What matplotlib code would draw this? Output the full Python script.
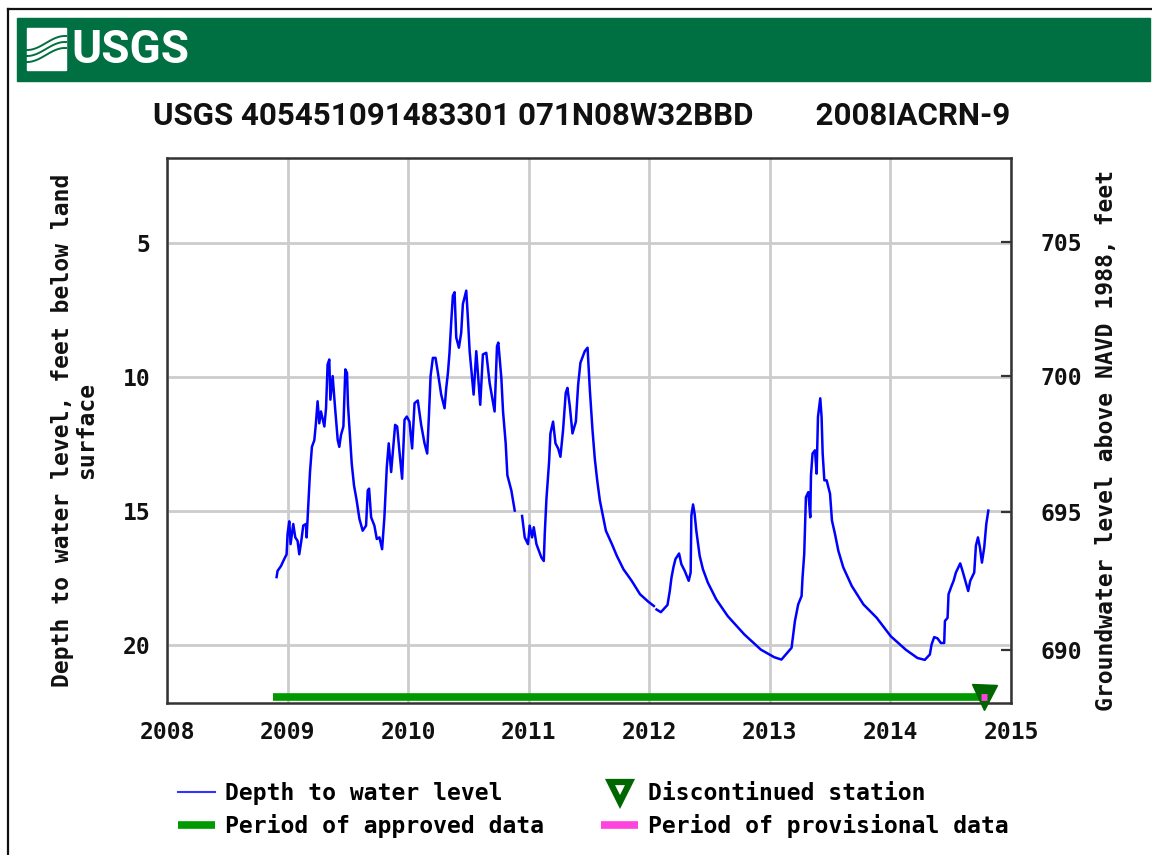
import numpy as np
import matplotlib
matplotlib.use("Agg")
import matplotlib.pyplot as plt
from matplotlib.lines import Line2D
from matplotlib.patches import Rectangle

nan = float("nan")
years = [2008.909,2008.917,2008.945,2008.972,2008.992,2009.000,2009.014,2009.025,2009.047,2009.064,2009.083,2009.097,2009.116,2009.130,2009.152,2009.158,2009.175,2009.186,2009.202,2009.222,2009.235,2009.249,2009.263,2009.277,2009.305,2009.319,2009.332,2009.346,2009.355,2009.374,2009.393,2009.416,2009.429,2009.443,2009.463,2009.479,2009.493,2009.501,2009.518,2009.532,2009.551,2009.573,2009.596,2009.623,2009.651,2009.665,2009.676,2009.693,2009.720,2009.740,2009.762,2009.784,2009.803,2009.823,2009.839,2009.859,2009.873,2009.892,2009.909,2009.928,2009.950,2009.970,2009.989,
2010.011,2010.033,2010.053,2010.080,2010.108,2010.136,2010.158,2010.172,2010.186,2010.205,2010.227,2010.247,2010.274,2010.302,2010.316,2010.330,2010.343,2010.357,2010.371,2010.385,2010.399,2010.421,2010.440,2010.454,2010.482,2010.496,2010.510,2010.543,2010.565,2010.598,2010.620,2010.648,2010.676,2010.717,2010.737,2010.748,2010.773,2010.787,2010.809,2010.823,2010.856,2010.884,2010.915,2010.945,2010.967,2010.994,
2011.008,2011.028,2011.042,2011.064,2011.105,2011.125,2011.133,2011.147,2011.169,2011.180,2011.202,2011.222,2011.244,2011.263,2011.285,2011.307,2011.321,2011.341,2011.363,2011.391,2011.410,2011.429,2011.465,2011.488,2011.507,2011.529,2011.548,2011.568,2011.590,2011.618,2011.640,2011.690,2011.731,2011.786,2011.854,2011.923,2011.992,
2012.038,2012.049,2012.060,2012.096,2012.151,2012.170,2012.184,2012.201,2012.217,2012.247,2012.266,2012.294,2012.327,2012.343,2012.349,2012.363,2012.376,2012.390,2012.418,2012.445,2012.486,2012.555,2012.651,2012.788,2012.926,
2013.036,2013.096,2013.180,2013.194,2013.208,2013.235,2013.263,2013.271,2013.285,2013.299,2013.319,2013.335,2013.341,2013.354,2013.374,2013.388,2013.399,2013.418,2013.429,2013.438,2013.452,2013.471,2013.499,2013.515,2013.540,2013.568,2013.609,2013.679,2013.776,2013.886,
2014.003,2014.127,2014.224,2014.285,2014.327,2014.341,2014.363,2014.391,2014.418,2014.446,2014.452,2014.474,2014.482,2014.507,2014.524,2014.543,2014.579,2014.598,2014.626,2014.645,2014.662,2014.695,2014.709,2014.726,2014.742,2014.759,2014.778,2014.795,2014.812]
depth = [17.47,17.24,17.06,16.80,16.62,15.86,15.39,16.24,15.49,15.99,16.12,16.62,16.05,15.55,15.49,15.99,14.49,13.55,12.61,12.36,11.73,10.91,11.73,11.29,11.85,11.17,9.54,9.35,10.85,9.97,11.10,12.36,12.61,12.17,11.85,9.72,9.85,11.04,12.23,13.23,14.05,14.61,15.30,15.74,15.55,14.24,14.17,15.24,15.55,16.05,15.99,16.43,15.24,13.36,12.48,13.55,12.79,11.79,11.85,12.79,13.80,11.60,11.48,
11.67,12.67,10.98,10.88,11.79,12.48,12.86,11.48,9.97,9.29,9.29,9.85,10.66,11.17,10.41,9.85,9.10,7.97,6.97,6.84,8.53,8.91,8.35,7.28,6.78,7.84,9.04,10.66,9.04,11.04,9.16,9.10,10.23,11.29,8.85,8.72,10.04,11.29,12.48,13.67,14.24,14.99,nan,15.19,15.99,16.24,
15.55,15.99,15.61,16.24,16.74,16.87,15.86,14.55,13.17,12.11,11.67,12.48,12.67,12.98,11.98,10.60,10.41,11.10,12.11,11.67,10.29,9.47,9.04,8.91,10.48,11.98,13.05,13.86,14.61,15.24,15.74,16.24,16.68,17.18,17.61,18.11,18.39,
18.55,nan,18.68,18.78,18.51,17.99,17.49,17.09,16.80,16.59,16.99,17.24,17.61,17.30,15.18,14.76,15.11,15.74,16.68,17.18,17.68,18.30,18.93,19.61,20.18,
20.46,20.55,20.11,19.61,19.11,18.49,18.18,17.49,16.61,14.49,14.30,15.24,13.68,12.86,12.74,13.61,11.49,10.80,11.49,12.86,13.86,13.86,14.36,15.36,15.86,16.49,17.11,17.80,18.49,18.99,
19.68,20.18,20.49,20.56,20.36,19.99,19.71,19.76,19.93,19.93,19.11,18.99,18.11,17.80,17.61,17.30,16.96,17.24,17.68,17.99,17.61,17.30,16.30,15.99,16.36,16.93,16.36,15.49,14.99]

year_ticks = [2008, 2009, 2010, 2011, 2012, 2013, 2014, 2015]
depth_ticks = [5, 10, 15, 20]
altitude_ticks = [705, 700, 695, 690]
altitude_tick_depths = [4.95, 9.98, 15.05, 20.2]
approved_years = [2008.88, 2014.78]
provisional_years = [2014.755, 2014.805]
period_depth = 21.95
marker_year = 2014.78
title = "USGS 405451091483301 071N08W32BBD        2008IACRN-9"
left_label = "Depth to water level, feet below land\nsurface"
right_label = "Groundwater level above NAVD 1988, feet"

W, H = 1152, 855
fig = plt.figure(figsize=(W / 100, H / 100), dpi=100, facecolor="white")
mono = ["DejaVu Sans Mono"]
fs = 16.6

def X(p): return p / W
def Y(p): return 1 - p / H

# page frame and banner
fig.add_artist(Line2D([X(8), X(8)], [Y(855), Y(9)], color="#111111", lw=1.6))
fig.add_artist(Line2D([X(8), X(1152)], [Y(9), Y(9)], color="#111111", lw=1.6))
fig.add_artist(Rectangle((X(17), Y(81)), X(1133), 63 / H, color="#006f41", transform=fig.transFigure))
fig.add_artist(Rectangle((X(27), Y(70)), X(39), 42 / H, color="white", transform=fig.transFigure))
t = np.linspace(27, 66, 40)
for off in (-6, 0, 6):
    fig.add_artist(Line2D(X(t), Y(49 + off - 7 * np.sin((t - 46) / 12)), color="#006f41", lw=1.4))
fig.text(X(71), Y(50), "USGS", color="white", family=["Roboto"], weight="bold",
         fontsize=33, va="center", ha="left")

fig.text(X(582), Y(116), title, family=["Roboto"], weight="bold",
         fontsize=22.5, ha="center", va="center", color="#111111")

ax = fig.add_axes([X(167), Y(703), (1011 - 167) / W, (703 - 158) / H])
ax.set_xlim(2008, 2015)
ax.set_ylim(22.17, 1.83)
ax.grid(True, color="#cccccc", lw=2)
ax.set_axisbelow(True)
ax.set_xticks(year_ticks)
ax.set_yticks(depth_ticks)
ax.set_xticklabels([str(v) for v in year_ticks], family=mono, weight="bold", fontsize=fs)
ax.set_yticklabels([str(v) for v in depth_ticks], family=mono, weight="bold", fontsize=fs)
ax.tick_params(axis="x", length=0, pad=13, colors="#111111")
ax.tick_params(axis="y", length=0, pad=12, colors="#111111")
for s in ax.spines.values():
    s.set_color("#333333")
    s.set_linewidth(1.8)

ax.plot(years, depth, color="#0000ff", lw=1.8, zorder=3)
ax.plot(approved_years, [period_depth] * 2, color="#009900", lw=5.5, solid_capstyle="butt", zorder=3)
ax.plot([marker_year], [period_depth], marker="v", ms=18, mfc="#006600", mec="#006600", ls="none",
        zorder=4, clip_on=False)
ax.plot(provisional_years, [period_depth] * 2, color="#ff44dd", lw=5, solid_capstyle="butt", zorder=5)

ax.set_ylabel(left_label, family=mono, weight="bold", fontsize=fs, linespacing=1.08, color="#111111")
ax.yaxis.set_label_coords((98 - 167) / (1011 - 167), 0.5)

ax2 = ax.twinx()
ax2.set_ylim(ax.get_ylim())
ax2.set_yticks(altitude_tick_depths)
ax2.set_yticklabels([str(v) for v in altitude_ticks], family=mono, weight="bold", fontsize=fs)
ax2.tick_params(axis="y", direction="in", length=7, width=1.6, pad=21, color="#333333", labelcolor="#111111")
ax2.set_ylabel(right_label, family=mono, weight="bold", fontsize=fs, color="#111111")
ax2.yaxis.set_label_coords((1095 - 167) / (1011 - 167), 0.481)
for s in ax2.spines.values():
    s.set_visible(False)

handles = [
    Line2D([], [], color="#3333ff", lw=1.5),
    Line2D([], [], color="#009900", lw=5.5, solid_capstyle="butt"),
    Line2D([], [], marker="v", ms=14, mfc="white", mec="#006600", mew=4.5, ls="none"),
    Line2D([], [], color="#ff44dd", lw=5.5, solid_capstyle="butt"),
]
labels = ["Depth to water level", "Period of approved data", "Discontinued station", "Period of provisional data"]
fig.legend(handles, labels, ncols=2, frameon=False, loc="upper left",
           bbox_to_anchor=(X(178 - 6), Y(776)), borderaxespad=0, borderpad=0.25,
           prop={"family": mono, "weight": "bold", "size": fs},
           handlelength=1.6, handletextpad=0.43, columnspacing=2.5, labelspacing=0.4)

fig.savefig("out.png", dpi=100)
